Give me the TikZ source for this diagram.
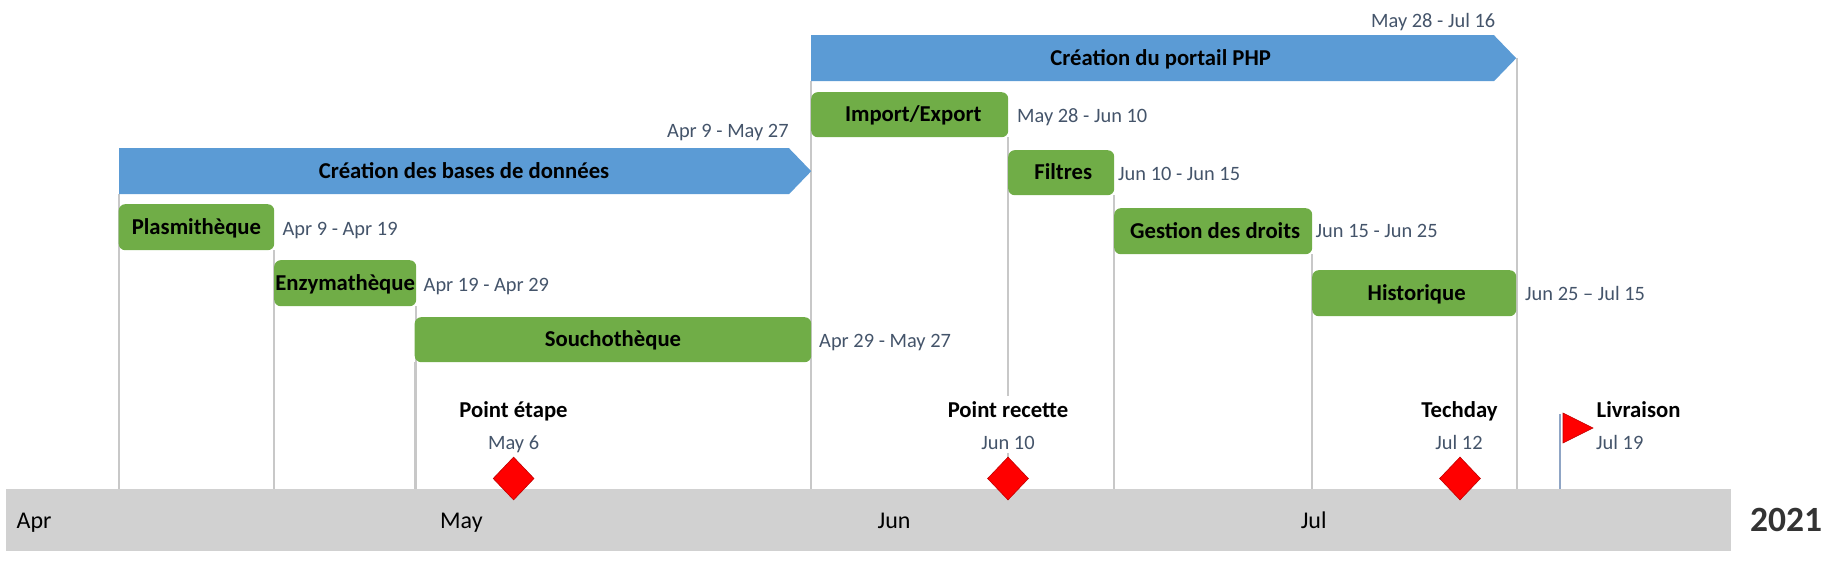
\documentclass[tikz,border=0pt]{standalone}
\usepackage{fontspec}
\setmainfont{Carlito}
\usetikzlibrary{shapes.geometric,shapes.symbols,backgrounds}
\definecolor{barblue}{HTML}{5B9BD5}
\definecolor{taskgreen}{HTML}{70AD47}
\definecolor{bandgrey}{HTML}{D1D1D1}
\definecolor{gridgrey}{HTML}{C8C8C8}
\definecolor{datecol}{HTML}{44546A}
\definecolor{poleblue}{HTML}{8FA5C5}
\definecolor{markred}{HTML}{FF0000}
\definecolor{markedge}{HTML}{C00000}
\tikzset{
  x=1pt,y=-1pt,
  gridline/.style={draw=gridgrey,line width=2pt},
  phase/.style={shape=signal,signal to=east,signal from=nowhere,signal pointer angle=92,fill=barblue,inner sep=0pt,
    anchor=north west,font=\fontsize{22.7}{26}\selectfont\bfseries,text height=17pt,text depth=3pt},
  taskbox/.style={draw=none,fill=taskgreen,rounded corners=6.5pt,inner sep=0pt,anchor=north west,
    font=\fontsize{22.7}{26}\selectfont\bfseries,text height=17pt,text depth=3pt},
  datelab/.style={inner sep=0pt,text=datecol,font=\fontsize{20.4}{24}\selectfont,anchor=base west},
  datemid/.style={datelab,anchor=base,fill=white,inner sep=0pt,text height=24pt,text depth=4pt},
  mslabel/.style={inner sep=0pt,font=\fontsize{22.7}{26}\selectfont\bfseries,anchor=base,fill=white,text height=21pt,text depth=8pt},
  month/.style={inner sep=0pt,font=\fontsize{24}{28}\selectfont,anchor=base west},
  milestone/.style={shape=diamond,fill=markred,draw=markedge,line width=0.6pt,inner sep=0pt,minimum width=41pt,minimum height=43pt},
}
\begin{document}
\begin{tikzpicture}
\useasboundingbox (0,0) rectangle (1846,565);
\node[fill=bandgrey,anchor=north west,inner sep=0pt,minimum width=1725pt,minimum height=62pt] (band) at (6,489) {};
\node[phase,minimum width=692pt,minimum height=46pt] (bases) at (119,148) {\hspace*{20pt}Création des bases de données};
\node[phase,minimum width=705pt,minimum height=46pt] (portail) at (811,35) {\hspace*{16pt}Création du portail PHP};
\node[taskbox,minimum width=155.5pt,minimum height=46pt] (plasmi) at (118.5,204) {Plasmithèque};
\node[taskbox,minimum width=142pt,minimum height=46pt] (enzy) at (274,260) {Enzymathèque};
\node[taskbox,minimum width=396.5pt,minimum height=45pt] (soucho) at (414.5,317) {Souchothèque};
\node[taskbox,minimum width=197pt,minimum height=45pt] (import) at (811,92) {\hspace*{7pt}Import/Export};
\node[taskbox,minimum width=106pt,minimum height=45pt] (filtres) at (1008,150) {\hspace*{4pt}Filtres};
\node[taskbox,minimum width=198pt,minimum height=46pt] (droits) at (1114,208) {\hspace*{4pt}Gestion des droits};
\node[taskbox,minimum width=204pt,minimum height=46pt] (histo) at (1312,270) {\hspace*{5pt}Historique};
\node[datelab] (dbases) at (667,137.6) {Apr 9 - May 27};
\node[datelab] (dportail) at (1371,27.7) {May 28 - Jul 16};
\node[datelab] (dplasmi) at (282.4,235) {Apr 9 - Apr 19};
\node[datelab] (denzy) at (423.5,291) {Apr 19 - Apr 29};
\node[datelab] (dsoucho) at (819,347.5) {Apr 29 - May 27};
\node[datelab] (dimport) at (1017,122.5) {May 28 - Jun 10};
\node[datelab] (dfiltres) at (1118,180) {Jun 10 - Jun 15};
\node[datelab] (ddroits) at (1315.5,237.5) {Jun 15 - Jun 25};
\node[datelab] (dhisto) at (1525,300) {Jun 25 – Jul 15};
\node[mslabel] (etape) at (513.5,417) {Point étape};
\node[datemid] (detape) at (513.6,449) {May 6};
\node[milestone] (metape) at (513.6,478.5) {};
\node[mslabel] (recette) at (1008,417) {Point recette};
\node[datemid] (drecette) at (1008,449) {Jun 10};
\node[milestone] (mrecette) at (1008,478.5) {};
\node[mslabel] (techday) at (1459.5,417) {Techday};
\node[datemid] (dtechday) at (1459,449) {Jul 12};
\node[milestone] (mtechday) at (1460,478.5) {};
\node[mslabel,anchor=base west] (livraison) at (1596.5,417) {Livraison};
\node[datelab] (dlivraison) at (1596,449) {Jul 19};
\node[month] (apr) at (16.5,528) {Apr};
\node[month] (may) at (440,528) {May};
\node[month] (jun) at (877.5,528) {Jun};
\node[month] (jul) at (1300.6,528) {Jul};
\node[inner sep=0pt,anchor=base west,text=black!80,font=\fontsize{35.5}{40}\selectfont\bfseries] (year) at (1750,531.5) {2021};
\coordinate (flagtop) at (1559.5,414);
\fill[markred,draw=markedge,line width=0.6pt] (1563,413) -- (1593,428) -- (1563,443) -- cycle;
\begin{pgfonlayer}{background}
\draw[gridline] (bases.south west) -- (bases.south west |- band.north);
\draw[gridline] (plasmi.south east) -- (plasmi.south east |- band.north);
\draw[gridline] (enzy.south east) -- (enzy.south east |- band.north);
\draw[gridline] (soucho.south west) -- (soucho.south west |- band.north);
\draw[gridline] (portail.south west) -- (portail.south west |- band.north);
\draw[gridline] (import.south east) -- (import.south east |- band.north);
\draw[gridline] (filtres.south east) -- (filtres.south east |- band.north);
\draw[gridline] (droits.south east) -- (droits.south east |- band.north);
\draw[gridline] (portail.east) -- (portail.east |- band.north);
\draw[draw=poleblue,line width=2pt] (flagtop) -- (flagtop |- band.north);
\end{pgfonlayer}
\end{tikzpicture}
\end{document}
